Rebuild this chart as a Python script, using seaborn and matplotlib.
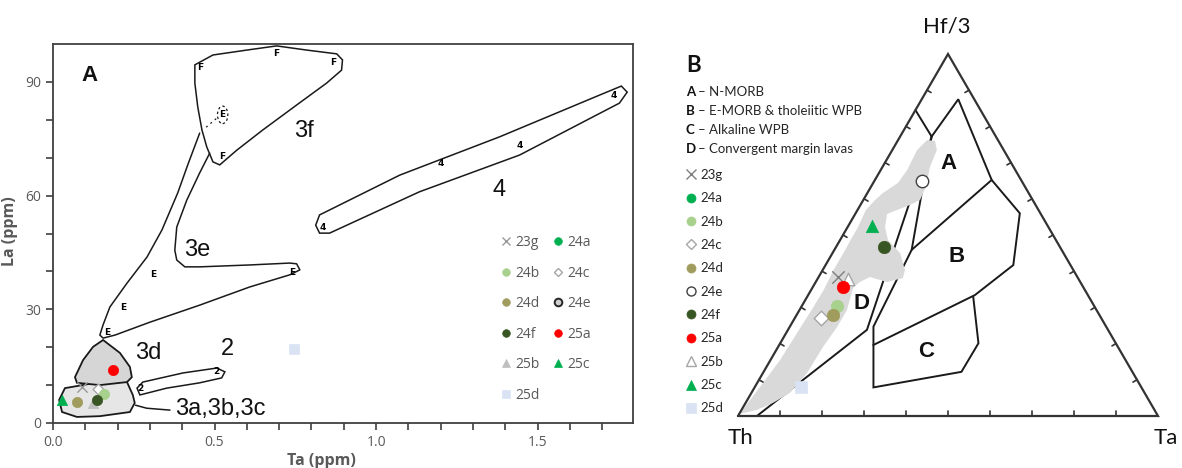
import numpy as np
import matplotlib
matplotlib.use("Agg")
import matplotlib.pyplot as plt
from matplotlib.lines import Line2D
from matplotlib.patches import Ellipse
import seaborn as sns

# ------------------------------------------------------------------
# Samples
# ------------------------------------------------------------------
samples = ["23g", "24a", "24b", "24c", "24d", "24e", "24f", "25a", "25b", "25c", "25d"]

# Panel A: La vs Ta (ppm)
ta_ppm = [0.089, None, 0.158, 0.140, 0.074, None, 0.136, 0.185, 0.124, 0.028, 0.745]
la_ppm = [9.4, None, 7.7, 9.1, 5.5, None, 6.1, 14.0, 5.3, 6.1, 19.5]

# Panel B: Th - Hf/3 - Ta (%)
th_pct = [57.0, None, 61.2, 66.8, 63.4, 23.8, 41.9, 57.1, 54.8, 41.9, 81.0]
hf3_pct = [38.3, None, 30.4, 27.0, 27.9, 65.0, 46.6, 35.6, 37.8, 52.5, 8.1]
ta_pct = [4.7, None, 8.4, 6.2, 8.7, 11.2, 11.5, 7.3, 7.4, 5.6, 10.9]

# ------------------------------------------------------------------
# Reference fields, panel A (Ta ppm, La ppm)
# ------------------------------------------------------------------
f3f_ta = [0.439, 0.495, 0.600, 0.692, 0.785, 0.878, 0.896, 0.893, 0.847, 0.754,
          0.649, 0.569, 0.516, 0.495, 0.476, 0.461, 0.448, 0.439]
f3f_la = [94.5, 97.1, 98.4, 99.5, 98.4, 97.4, 95.8, 93.1, 89.7, 83.9,
          77.3, 72.0, 68.1, 68.9, 72.8, 77.3, 83.4, 89.7]

f3e_ta = [0.454, 0.417, 0.386, 0.337, 0.291, 0.229, 0.176, 0.155, 0.145, 0.155,
          0.192, 0.300, 0.454, 0.609, 0.733, 0.764, 0.754, 0.733, 0.609, 0.454,
          0.408, 0.383, 0.377, 0.383, 0.414, 0.454, 0.485]
f3e_la = [76.5, 68.1, 60.7, 50.9, 43.8, 36.9, 30.6, 25.9, 23.2, 22.4,
          23.2, 26.6, 31.1, 35.9, 39.1, 40.4, 42.0, 42.2, 41.7, 41.2,
          41.2, 43.0, 45.6, 51.7, 58.8, 66.0, 71.2]

f3d_ta = [0.155, 0.207, 0.238, 0.244, 0.229, 0.145, 0.074, 0.068, 0.093, 0.124]
f3d_la = [21.9, 18.5, 14.8, 12.1, 10.8, 10.0, 10.6, 12.1, 16.6, 20.1]

f3abc_ta = [0.037, 0.145, 0.229, 0.247, 0.253, 0.238, 0.145, 0.074, 0.028, 0.019]
f3abc_la = [9.2, 10.8, 10.8, 7.4, 5.3, 2.9, 1.8, 1.6, 2.9, 6.1]

f2_ta = [0.260, 0.278, 0.402, 0.507, 0.532, 0.522, 0.454, 0.352, 0.269]
f2_la = [9.2, 10.8, 13.2, 14.5, 13.5, 11.9, 10.6, 9.2, 7.4]

f4_ta = [0.813, 0.825, 1.073, 1.382, 1.691, 1.759, 1.777, 1.753, 1.444, 1.134, 0.856, 0.825]
f4_la = [52.2, 54.9, 65.4, 75.5, 86.5, 88.9, 87.3, 84.4, 70.7, 61.0, 50.1, 50.1]

leader_ta = [0.255, 0.29, 0.362]
leader_la = [4.7, 3.9, 3.4]

# symbols of the reference data inside each field
mark_F_ta = [0.454, 0.692, 0.866, 0.525]
mark_F_la = [93.7, 97.4, 95.0, 70.4]
mark_E_ta = [0.525, 0.309, 0.216, 0.167, 0.739]
mark_E_la = [81.3, 39.1, 30.6, 24.0, 39.8]
mark_2_ta = [0.507, 0.269]
mark_2_la = [13.5, 9.2]
mark_4_ta = [0.835, 1.199, 1.444, 1.734]
mark_4_la = [51.7, 68.6, 73.1, 86.3]

field_labels = ["3f", "3e", "3d", "2", "4"]
field_label_ta = [0.776, 0.447, 0.294, 0.539, 1.382]
field_label_la = [77.0, 45.6, 18.5, 19.4, 61.5]

# ------------------------------------------------------------------
# Reference fields, panel B (Hf/3 %, Ta %), Th = remainder
# ------------------------------------------------------------------
bnd1_hf = [84.5, 77.2, 87.5, 65.2, 56.0, 41.7, 33.4, 19.6]
bnd1_ta = [0.0, 7.5, 8.7, 27.8, 39.1, 44.7, 39.7, 22.4]
bnd2_hf = [65.2, 45.9]
bnd2_ta = [27.8, 18.4]
bnd3_hf = [77.2, 45.9, 24.7, 7.9, 12.2, 20.1, 33.0]
bnd3_ta = [7.5, 18.4, 19.9, 28.3, 47.1, 47.2, 39.5]
bnd4_hf = [77.2, 23.8, 0.0]
bnd4_ta = [7.5, 18.8, 4.5]

conv_hf = [0.6, 4.4, 9.9, 15.5, 22.9, 30.1, 34.8, 40.3, 44.5, 48.6, 51.9, 56.9, 59.7, 61.6,
           64.4, 68.0, 73.5, 76.2, 76.0, 73.5, 68.8, 63.3, 59.7, 58.3, 56.9, 55.8, 52.2, 48.6,
           45.0, 40.3, 38.1, 37.0, 38.4, 37.0, 35.4, 29.3, 24.6, 19.1, 11.9, 6.4, 3.6, 1.7]
conv_ta = [0.2, 0.65, 1.5, 2.3, 2.6, 2.9, 3.0, 2.6, 2.6, 2.5, 2.5, 2.0, 2.8, 3.7,
           5.9, 6.3, 5.9, 6.9, 8.9, 10.6, 11.3, 13.1, 13.5, 11.8, 9.4, 7.6, 8.9, 11.4,
           16.1, 19.6, 20.2, 17.0, 12.2, 10.5, 9.7, 11.3, 11.3, 10.7, 10.5, 9.2, 6.5, 3.7]

tern_fields = ["A", "B", "C", "D"]
tern_field_hf = [69.8, 44.0, 17.8, 31.1]
tern_field_ta = [15.2, 30.1, 36.0, 13.9]
tern_field_desc = ["N-MORB", "E-MORB & tholeiitic WPB", "Alkaline WPB", "Convergent margin lavas"]

# ------------------------------------------------------------------
# Marker styles
# ------------------------------------------------------------------
GREEN, LGREEN, OLIVE, DGREEN = "#00b050", "#a9d18e", "#a09c5e", "#375623"
style_A = {
    "23g": dict(marker="x", fc="#9a9a9a", ec=None, lw=1.0),
    "24a": dict(marker="o", fc=GREEN, ec=GREEN, lw=0.5),
    "24b": dict(marker="o", fc=LGREEN, ec=LGREEN, lw=0.5),
    "24c": dict(marker="D", fc="white", ec="#a6a6a6", lw=1.0),
    "24d": dict(marker="o", fc=OLIVE, ec=OLIVE, lw=0.5),
    "24e": dict(marker="o", fc="#d0d0d0", ec="#262626", lw=1.4),
    "24f": dict(marker="o", fc=DGREEN, ec=DGREEN, lw=0.5),
    "25a": dict(marker="o", fc="#ff0000", ec="#ff0000", lw=0.5),
    "25b": dict(marker="^", fc="#bfbfbf", ec="#bfbfbf", lw=0.5),
    "25c": dict(marker="^", fc=GREEN, ec=GREEN, lw=0.5),
    "25d": dict(marker="s", fc="#dae3f3", ec="#dae3f3", lw=0.5),
}
style_B = dict(style_A)
style_B.update({
    "23g": dict(marker="x", fc="#7f7f7f", ec=None, lw=1.0),
    "24e": dict(marker="o", fc="white", ec="#404040", lw=1.0),
    "25b": dict(marker="^", fc="white", ec="#a6a6a6", lw=1.0),
})
order_A = ["24a", "24e", "24c", "23g", "24d", "24b", "25b", "24f", "25c", "25a", "25d"]

sns.set_style("white")
plt.rcParams["font.family"] = ["Open Sans", "DejaVu Sans"]

W, H = 1182, 468
fig = plt.figure(figsize=(W / 100, H / 100), dpi=100)


def fx(px):
    return px / W


def fy(py):
    return 1 - py / H


def draw_point(ax, x, y, st, s, z):
    kw = dict(x=[x], y=[y], ax=ax, marker=st["marker"], s=s, color=st["fc"],
              linewidth=st["lw"], zorder=z, legend=False)
    if st["ec"] is not None:
        kw["edgecolor"] = st["ec"]
    sns.scatterplot(**kw)


def handle(st, ms):
    if st["ec"] is None:
        return Line2D([], [], ls="none", marker=st["marker"], ms=ms, color=st["fc"],
                      mew=st["lw"])
    return Line2D([], [], ls="none", marker=st["marker"], ms=ms, mfc=st["fc"],
                  mec=st["ec"], mew=st["lw"])


# ==================================================================
# Panel A
# ==================================================================
axA = fig.add_axes([fx(53), fy(423), (633 - 53) / W, (423 - 44) / H])
axA.set_xlim(0, 1.795)
axA.set_ylim(0, 100)

line_kw = dict(color="#1a1a1a", lw=1.1, solid_joinstyle="round", solid_capstyle="round")
axA.fill(f3abc_ta, f3abc_la, facecolor="#e6e6e6", edgecolor="#1a1a1a", lw=1.3, zorder=1)
axA.fill(f3d_ta, f3d_la, facecolor="#d6d6d6", edgecolor="#1a1a1a", lw=1.3, zorder=1)
axA.fill(f3f_ta, f3f_la, facecolor="none", edgecolor="#1a1a1a", lw=1.1, zorder=1)
axA.fill(f2_ta, f2_la, facecolor="none", edgecolor="#1a1a1a", lw=1.1, zorder=1)
axA.fill(f4_ta, f4_la, facecolor="none", edgecolor="#1a1a1a", lw=1.1, zorder=1)
axA.plot(f3e_ta, f3e_la, **line_kw)
axA.plot(leader_ta, leader_la, **line_kw)
axA.add_patch(Ellipse((0.525, 81.3), 0.032, 4.6, fill=False, ls=(0, (2, 2)), lw=0.9,
                      color="#1a1a1a"))
axA.plot([0.505, 0.468], [80.3, 77.6], color="#1a1a1a", lw=0.9, ls=(0, (1.5, 3)))

for marks, xs, ys in [("F", mark_F_ta, mark_F_la), ("E", mark_E_ta, mark_E_la),
                      ("2", mark_2_ta, mark_2_la), ("4", mark_4_ta, mark_4_la)]:
    for x, y in zip(xs, ys):
        axA.text(x, y, marks, fontsize=6.5, fontweight="bold", family="DejaVu Sans",
                 ha="center", va="center", color="#000000", zorder=2)

for lab, x, y in zip(field_labels, field_label_ta, field_label_la):
    axA.text(x, y, lab, fontsize=17, family="Liberation Sans", ha="center", va="center",
             color="#111111")
axA.text(0.377, 3.7, "3a,3b,3c", fontsize=17, family="Liberation Sans", ha="left",
         va="center", color="#111111")
axA.text(0.113, 91.7, "A", fontsize=16, fontweight="bold", family="Liberation Sans",
         ha="center", va="center", color="#111111")

for name in order_A:
    i = samples.index(name)
    if ta_ppm[i] is None:
        continue
    s = 30 if name == "24c" else 55
    draw_point(axA, ta_ppm[i], la_ppm[i], style_A[name], s, 4)

axA.set_xticks([0.0, 0.5, 1.0, 1.5])
axA.set_xticklabels(["0.0", "0.5", "1.0", "1.5"])
axA.set_xticks(np.arange(0.1, 1.8, 0.1), minor=True)
axA.set_yticks([0, 30, 60, 90])
axA.set_yticks(np.arange(10, 100, 10), minor=True)
axA.tick_params(which="both", direction="out", length=5, width=1.2, color="#404040",
                labelcolor="#595959", labelsize=10, bottom=True, left=True)
for sp in axA.spines.values():
    sp.set_color("#404040")
    sp.set_linewidth(1.3)
axA.set_xlabel("Ta (ppm)", fontsize=11.5, fontweight="bold", color="#595959")
axA.set_ylabel("La (ppm)", fontsize=11.5, fontweight="bold", color="#595959")
axA.xaxis.set_label_coords(0.462, -0.08)
axA.yaxis.set_label_coords(-0.06, 0.505)

legA_names = ["23g", "24b", "24d", "24f", "25b", "25d", "24a", "24c", "24e", "25a", "25c"]
legA = axA.legend([handle(style_A[n], 5.5 if n != "24c" else 4.2) for n in legA_names],
                  legA_names, ncol=2, loc="upper left", frameon=False,
                  bbox_to_anchor=(fx(500), fy(235)), bbox_transform=fig.transFigure,
                  borderpad=0, borderaxespad=0, handlelength=0.8, handletextpad=0.3,
                  columnspacing=0.9, labelspacing=1.12, prop={"family": "Open Sans", "size": 10})
for t in legA.get_texts():
    t.set_color("#595959")

# ==================================================================
# Panel B: Th - Hf/3 - Ta ternary
# ==================================================================
axB = fig.add_axes([fx(650), 0, (W - 650) / W, 1])
axB.set_xlim((650 - 738) / 420, (W - 738) / 420)
axB.set_ylim((416 - H) / 418, 416 / 418)
axB.axis("off")

R3 = np.sqrt(3) / 2


def tern(hf, ta):
    hf = np.asarray(hf, float) / 100
    ta = np.asarray(ta, float) / 100
    return ta + hf / 2, hf * R3


# outer triangle and ticks
tri_x, tri_y = [0, 1, 0.5, 0], [0, 0, R3, 0]
axB.plot(tri_x, tri_y, color="#333333", lw=1.6, zorder=4, solid_joinstyle="miter")
corners = np.array([[0, 0], [1, 0], [0.5, R3]])
centroid = corners.mean(axis=0)
for a, b in [(0, 1), (1, 2), (2, 0)]:
    p, q = corners[a], corners[b]
    d = q - p
    nrm = np.array([-d[1], d[0]])
    nrm = nrm / np.linalg.norm(nrm)
    if np.dot(centroid - p, nrm) < 0:
        nrm = -nrm
    for f in np.arange(0.1, 1.0, 0.1):
        s = p + f * d
        e = s + 0.011 * nrm
        axB.plot([s[0], e[0]], [s[1], e[1]], color="#333333", lw=1.2, zorder=4)

bkw = dict(color="#1a1a1a", lw=1.4, zorder=2, solid_joinstyle="miter")
for hs, ts in [(bnd1_hf, bnd1_ta), (bnd2_hf, bnd2_ta), (bnd3_hf, bnd3_ta), (bnd4_hf, bnd4_ta)]:
    x, y = tern(hs, ts)
    axB.plot(x, y, **bkw)

gx, gy = tern(conv_hf, conv_ta)
axB.fill(gx, gy, color="#d9d9d9", lw=0, zorder=3)

for lab, h, t in zip(tern_fields, tern_field_hf, tern_field_ta):
    x, y = tern(h, t)
    axB.text(x, y, lab, fontsize=16, fontweight="bold", family="Liberation Sans",
             ha="center", va="center", color="#111111", zorder=6)

for name in ["24c", "23g", "25b", "24b", "24d", "25a", "24f", "25c", "24e", "25d"]:
    i = samples.index(name)
    if hf3_pct[i] is None:
        continue
    tot = th_pct[i] + hf3_pct[i] + ta_pct[i]
    x, y = tern(100 * hf3_pct[i] / tot, 100 * ta_pct[i] / tot)
    s = 55 if name == "24c" else 80
    draw_point(axB, float(x), float(y), style_B[name], s, 5)

vkw = dict(fontsize=16, family=["Lato", "DejaVu Sans"], ha="center", va="center", color="#111111")
axB.text(0.4976, 0.933, "Hf/3", **vkw)
axB.text(0.005, -0.053, "Th", **vkw)
axB.text(1.019, -0.053, "Ta", **vkw)

fig.text(fx(686), fy(65), "B", fontsize=16, fontweight="bold", family="Lato",
         ha="left", va="center", color="#111111")
for k, (lab, desc) in enumerate(zip(tern_fields, tern_field_desc)):
    yy = fy(92.5 + 18.8 * k)
    fig.text(fx(686), yy, lab, fontsize=9.5, fontweight="bold", family="Lato",
             ha="left", va="center", color="#111111")
    fig.text(fx(698), yy, "\u2013 " + desc, fontsize=9.5, family="Lato",
             ha="left", va="center", color="#262626")

legB = axB.legend([handle(style_B[n], 6.5 if n != "24c" else 5) for n in samples], samples,
                  loc="upper left", frameon=False, bbox_to_anchor=(fx(686), fy(169)),
                  bbox_transform=fig.transFigure, borderpad=0, borderaxespad=0,
                  handlelength=0.8, handletextpad=0.3, labelspacing=0.86,
                  prop={"family": "Lato", "size": 9.5})
for t in legB.get_texts():
    t.set_color("#262626")

fig.savefig("out.png", dpi=100)
